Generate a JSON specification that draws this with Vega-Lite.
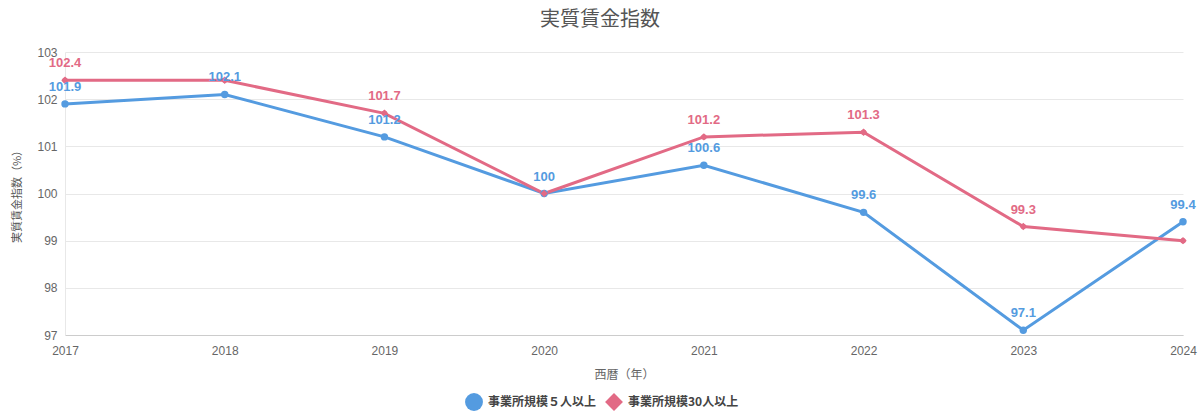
{
  "$schema": "https://vega.github.io/schema/vega-lite/v6.json",
  "width": 1118,
  "height": 283,
  "autosize": {"type": "none"},
  "padding": {"left": 65, "top": 52, "right": 17, "bottom": 81},
  "title": {
    "text": "実質賃金指数",
    "font": "Noto Sans CJK JP",
    "fontSize": 20,
    "fontWeight": "normal",
    "color": "#555555",
    "anchor": "middle",
    "dx": -24,
    "offset": 16
  },
  "data": {
    "values": [
      {"year": "2017", "series": "事業所規模５人以上", "value": 101.9},
      {"year": "2018", "series": "事業所規模５人以上", "value": 102.1},
      {"year": "2019", "series": "事業所規模５人以上", "value": 101.2},
      {"year": "2020", "series": "事業所規模５人以上", "value": 100},
      {"year": "2021", "series": "事業所規模５人以上", "value": 100.6},
      {"year": "2022", "series": "事業所規模５人以上", "value": 99.6},
      {"year": "2023", "series": "事業所規模５人以上", "value": 97.1},
      {"year": "2024", "series": "事業所規模５人以上", "value": 99.4},
      {"year": "2017", "series": "事業所規模30人以上", "value": 102.4},
      {"year": "2018", "series": "事業所規模30人以上", "value": 102.4},
      {"year": "2019", "series": "事業所規模30人以上", "value": 101.7},
      {"year": "2020", "series": "事業所規模30人以上", "value": 100},
      {"year": "2021", "series": "事業所規模30人以上", "value": 101.2},
      {"year": "2022", "series": "事業所規模30人以上", "value": 101.3},
      {"year": "2023", "series": "事業所規模30人以上", "value": 99.3},
      {"year": "2024", "series": "事業所規模30人以上", "value": 99.0}
    ]
  },
  "encoding": {
    "x": {
      "field": "year",
      "type": "ordinal",
      "title": "西暦（年）",
      "scale": {"type": "point", "padding": 0},
      "axis": {
        "labelAngle": 0,
        "ticks": false,
        "labelPadding": 10,
        "labelFont": "Liberation Sans",
        "labelFontSize": 12,
        "labelColor": "#666666",
        "titleFont": "Noto Sans CJK JP",
        "titleFontSize": 12,
        "titleFontWeight": "normal",
        "titleColor": "#666666",
        "titlePadding": 13,
        "domainColor": "#cccccc"
      }
    },
    "y": {
      "field": "value",
      "type": "quantitative",
      "title": "実質賃金指数（%）",
      "scale": {"domain": [97, 103], "nice": false, "zero": false},
      "axis": {
        "tickCount": 6,
        "ticks": false,
        "labelPadding": 8,
        "labelFont": "Liberation Sans",
        "labelFontSize": 12,
        "labelColor": "#666666",
        "titleFont": "Noto Sans CJK JP",
        "titleFontSize": 11,
        "titleFontWeight": "normal",
        "titleColor": "#555555",
        "titlePadding": 14,
        "gridColor": "#e8e8e8",
        "domainColor": "#e8e8e8"
      }
    },
    "color": {
      "field": "series",
      "type": "nominal",
      "scale": {
        "domain": ["事業所規模５人以上", "事業所規模30人以上"],
        "range": ["#549be0", "#e26a85"]
      },
      "legend": {
        "orient": "none",
        "legendX": 400,
        "legendY": 341,
        "direction": "horizontal",
        "title": null,
        "labelFont": "Noto Sans CJK JP",
        "labelFontSize": 12,
        "labelFontWeight": "bold",
        "labelColor": "#444444",
        "symbolSize": 320,
        "symbolStrokeWidth": 0,
        "columnPadding": 8,
        "labelOffset": 5
      }
    },
    "shape": {
      "field": "series",
      "type": "nominal",
      "scale": {
        "domain": ["事業所規模５人以上", "事業所規模30人以上"],
        "range": ["circle", "diamond"]
      },
      "legend": null
    }
  },
  "layer": [
    {
      "mark": {"type": "line", "strokeWidth": 3},
      "encoding": {"shape": {"value": null}}
    },
    {
      "mark": {"type": "point", "filled": true, "size": 55, "opacity": 1}
    },
    {
      "transform": [
        {"filter": "!(datum.series == '事業所規模30人以上' && (datum.year == '2018' || datum.year == '2020' || datum.year == '2024'))"}
      ],
      "mark": {
        "type": "text",
        "dy": -17,
        "font": "Liberation Sans",
        "fontSize": 13,
        "fontWeight": "bold"
      },
      "encoding": {
        "text": {"field": "value", "type": "quantitative"},
        "shape": {"value": null}
      }
    }
  ],
  "config": {
    "view": {"stroke": null},
    "background": "#ffffff"
  }
}
